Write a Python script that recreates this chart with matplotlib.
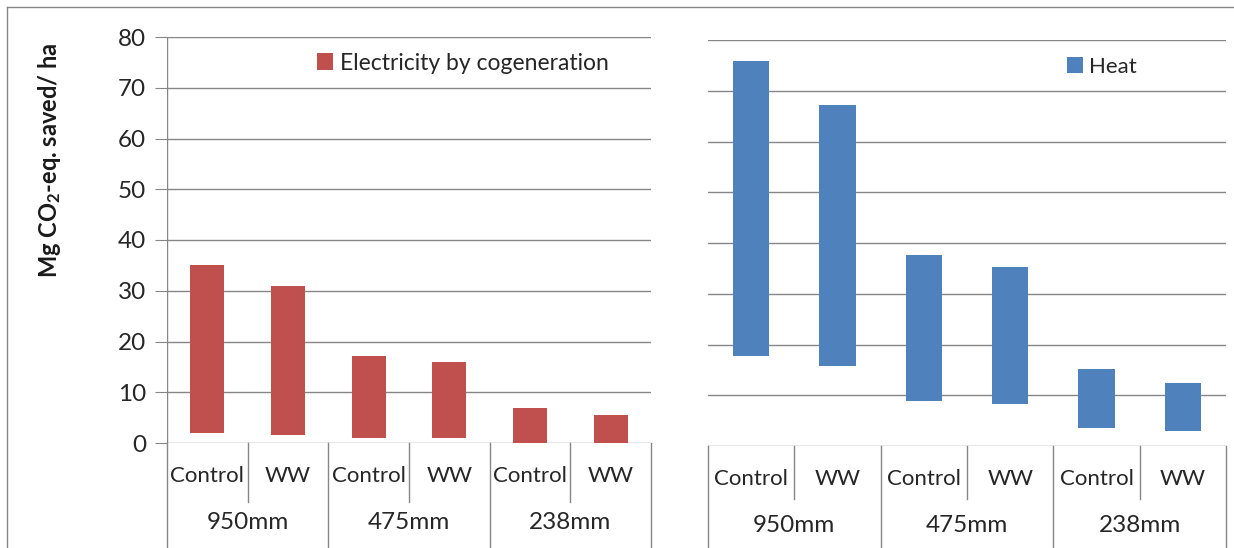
import numpy as np
import matplotlib
matplotlib.use('Agg')
import matplotlib.pyplot as plt
from matplotlib.lines import Line2D

plt.rcParams['font.family'] = ['Lato', 'DejaVu Sans']
plt.rcParams['mathtext.fontset'] = 'custom'
plt.rcParams['mathtext.rm'] = 'Lato'
plt.rcParams['mathtext.bf'] = 'Lato:bold'

# data (floating bars: low -> high)
sites = ['950mm', '475mm', '238mm']
treatments = ['Control', 'WW']
elec_low = [2.0, 1.6, 0.9, 0.9, 0.0, 0.0]
elec_high = [35.0, 30.9, 17.1, 15.9, 6.8, 5.5]
heat_low = [17.7, 15.7, 8.9, 8.2, 3.6, 2.9]
heat_high = [75.9, 67.1, 37.6, 35.2, 15.1, 12.4]
yticks = [0, 10, 20, 30, 40, 50, 60, 70, 80]

red = '#C0504D'
blue = '#4F81BD'
grid_col = '#868686'
txt_col = '#262626'
fs = 16

fig = plt.figure(figsize=(12.34, 5.48), dpi=100)
W, H = 1234, 548


def axes_px(x0, x1, ytop, ybot):
    return fig.add_axes([x0 / W, 1 - ybot / H, (x1 - x0) / W, (ybot - ytop) / H])


ax1 = axes_px(167, 651, 37, 443)
ax2 = axes_px(708, 1226, 40, 446)

x = np.arange(6)
labels = [t for s in sites for t in treatments]


def draw_panel(ax, low, high, color, name, show_y, inner_end, group_end, leg_xy, leg_fs):
    low = np.array(low)
    high = np.array(high)
    bars = ax.bar(x, high - low, bottom=low, width=0.42, color=color, zorder=3, label=name)
    ax.set_xlim(-0.5, 5.5)
    ax.set_ylim(0, 80)
    ax.set_yticks(yticks)
    for s in ax.spines.values():
        s.set_visible(False)
    for v in yticks:
        ax.axhline(v, color=grid_col, lw=1, zorder=1)
    ax.set_xticks([])
    if show_y:
        ax.tick_params(axis='y', length=9, color=grid_col, labelsize=17.5, pad=6,
                       labelcolor=txt_col)
        ax.axvline(-0.5, color=grid_col, lw=1, zorder=1)
    else:
        ax.set_yticks([])
    trans = ax.get_xaxis_transform()
    # multi-level category box below the axis
    for b in range(7):
        xb = b - 0.5
        end = group_end if b % 2 == 0 else inner_end
        ax.add_line(Line2D([xb, xb], [0, end], transform=trans, color=grid_col,
                           lw=1, clip_on=False))
    for i, lab in enumerate(labels):
        ax.text(i, -0.082, lab, transform=trans, ha='center', va='center', fontsize=fs,
                color=txt_col)
    for j, s in enumerate(sites):
        ax.text(2 * j + 0.5, -0.197, s, transform=trans, ha='center', va='center',
                fontsize=17.5, color=txt_col)
    leg = ax.legend(handles=[bars], loc='center left', bbox_to_anchor=leg_xy,
                    bbox_transform=fig.transFigure, frameon=False, fontsize=leg_fs,
                    handlelength=0.7, handleheight=0.7, handletextpad=0.3,
                    borderpad=0, borderaxespad=0)
    for t in leg.get_texts():
        t.set_color(txt_col)


draw_panel(ax1, elec_low, elec_high, red, 'Electricity by cogeneration', True,
           -0.145, -0.26, (317 / W, 1 - 63 / H), 16.5)
draw_panel(ax2, heat_low, heat_high, blue, 'Heat', False,
           -0.13, -0.26, (1067 / W, 1 - 67 / H), 16)

fig.text(50 / W, 1 - 160 / H, r'Mg CO$\mathbf{_2}$-eq. saved/ ha', rotation=90,
         ha='center', va='center', fontsize=17, fontweight='bold', color='#1a1a1a')

# outer chart frame
fig.add_artist(Line2D([7 / W, 7 / W], [0, 1 - 7 / H], transform=fig.transFigure,
                      color=grid_col, lw=1))
fig.add_artist(Line2D([7 / W, 1], [1 - 7 / H, 1 - 7 / H], transform=fig.transFigure,
                      color=grid_col, lw=1))

fig.savefig('out.png', dpi=100)
